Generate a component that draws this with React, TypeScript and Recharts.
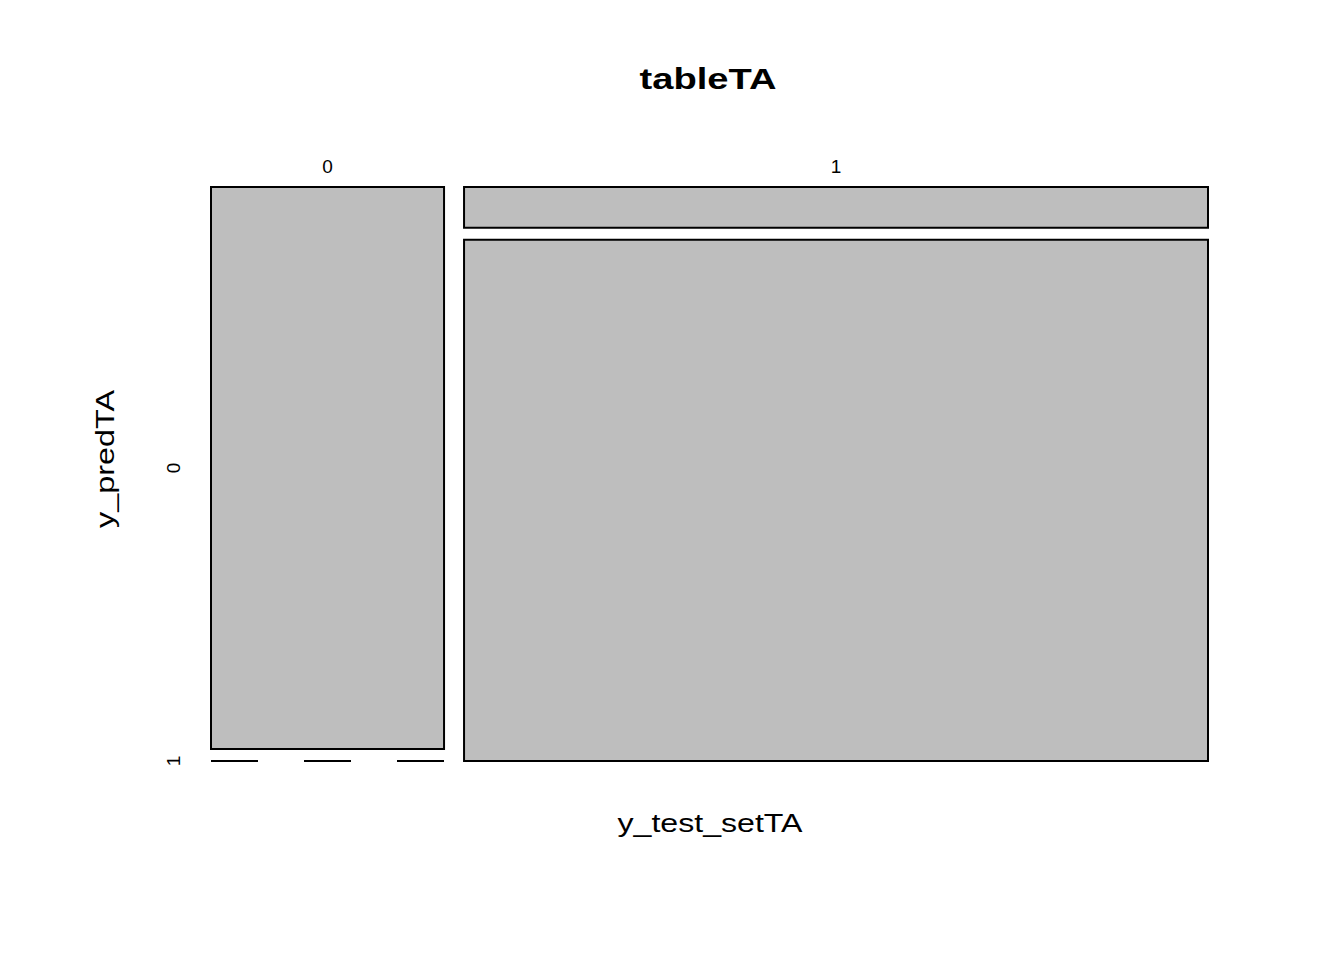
import React from 'react';
import { ComposedChart, XAxis, YAxis, ReferenceArea, ReferenceLine } from 'recharts';

// contingency table: rows = y_predTA, columns = y_test_setTA
const testLevels = ['0', '1'];
const predLevels = ['0', '1'];
const countsPred0 = [52, 12];
const countsPred1 = [0, 154];

const gapX = 20 / 997;
const gapY = 12 / 574;

const colTotals = testLevels.map((_, i) => countsPred0[i] + countsPred1[i]);
const grandTotal = colTotals.reduce((a, b) => a + b, 0);

// build mosaic cells in data units (0..1 on both axes)
const cells: { x1: number; x2: number; y1: number; y2: number; zero: boolean }[] = [];
const colCenters: number[] = [];
let xPos = 0;
testLevels.forEach((_, i) => {
  const w = ((1 - gapX) * colTotals[i]) / grandTotal;
  const vals = [countsPred0[i], countsPred1[i]];
  let yPos = 0;
  vals.forEach((v) => {
    const h = ((1 - gapY) * v) / colTotals[i];
    cells.push({ x1: xPos, x2: xPos + w, y1: yPos, y2: yPos + h, zero: v === 0 });
    yPos += h + gapY;
  });
  colCenters.push(xPos + w / 2);
  xPos += w + gapX;
});

// row label positions follow the first column
const rowCenters: number[] = [];
{
  let yPos = 0;
  [countsPred0[0], countsPred1[0]].forEach((v) => {
    const h = ((1 - gapY) * v) / colTotals[0];
    rowCenters.push(yPos + h / 2);
    yPos += h + gapY;
  });
}

const font = 'Liberation Sans, Arial, sans-serif';

const XTick = (props: any) => {
  const { x, y, payload } = props;
  const idx = colCenters.indexOf(payload.value);
  return (
    <text x={x} y={y - 14} textAnchor="middle" style={{ fontSize: 19, fontFamily: font }} fill="#000">
      {testLevels[idx]}
    </text>
  );
};

const YTick = (props: any) => {
  const { x, y, payload } = props;
  const idx = rowCenters.indexOf(payload.value);
  const tx = x - 31;
  return (
    <text
      x={tx}
      y={y}
      textAnchor="middle"
      style={{ fontSize: 19, fontFamily: font }}
      fill="#000"
      transform={`rotate(-90, ${tx}, ${y})`}
    >
      {predLevels[idx]}
    </text>
  );
};

export default function App() {
  return (
    <div style={{ position: 'absolute', left: 0, top: 0, background: '#fff' }}>
      <ComposedChart
        width={1344}
        height={960}
        data={[]}
        margin={{ top: 147, right: 136, bottom: 199, left: 161 }}
      >
        <XAxis
          type="number"
          dataKey="x"
          orientation="top"
          domain={[0, 1]}
          ticks={colCenters}
          tick={<XTick />}
          axisLine={false}
          tickLine={false}
          tickSize={0}
          tickMargin={0}
          height={40}
          allowDataOverflow
        />
        <YAxis
          type="number"
          dataKey="y"
          domain={[0, 1]}
          reversed
          ticks={rowCenters}
          tick={<YTick />}
          axisLine={false}
          tickLine={false}
          tickSize={0}
          tickMargin={0}
          width={50}
          allowDataOverflow
        />
        {cells
          .filter((c) => !c.zero)
          .map((c, i) => (
            <ReferenceArea
              key={'a' + i}
              x1={c.x1}
              x2={c.x2}
              y1={c.y1}
              y2={c.y2}
              fill="#BEBEBE"
              fillOpacity={1}
              stroke="#000"
              strokeWidth={2}
              ifOverflow="visible"
            />
          ))}
        {cells
          .filter((c) => c.zero)
          .map((c, i) => (
            <ReferenceLine
              key={'z' + i}
              segment={[
                { x: c.x1, y: c.y1 },
                { x: c.x2, y: c.y1 },
              ]}
              stroke="#000"
              strokeWidth={2}
              strokeDasharray="47 46"
              ifOverflow="visible"
            />
          ))}
        <text
          x={708}
          y={89}
          textAnchor="middle"
          fontSize={30}
          fontWeight="bold"
          fontFamily={font}
          textLength={137}
          lengthAdjust="spacingAndGlyphs"
        >
          tableTA
        </text>
        <text
          x={710}
          y={832}
          textAnchor="middle"
          fontSize={26}
          fontFamily={font}
          textLength={185}
          lengthAdjust="spacingAndGlyphs"
        >
          y_test_setTA
        </text>
        <text
          x={114}
          y={459}
          textAnchor="middle"
          fontSize={26}
          fontFamily={font}
          textLength={138}
          lengthAdjust="spacingAndGlyphs"
          transform="rotate(-90, 114, 459)"
        >
          y_predTA
        </text>
      </ComposedChart>
    </div>
  );
}
